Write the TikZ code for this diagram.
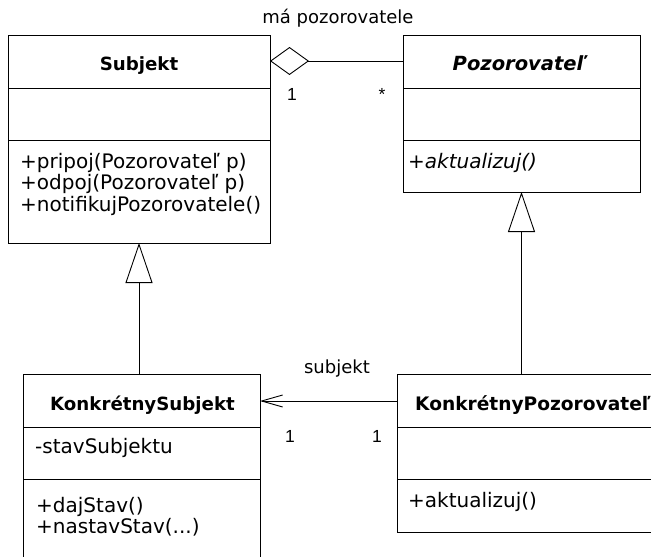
\documentclass[tikz,border=0pt]{standalone}
\usepackage{fontspec}
\setmainfont{DejaVu Sans}
\newfontfamily\numfont{Liberation Sans}
\usetikzlibrary{arrows.meta,calc}
\begin{document}
\begin{tikzpicture}[x=1pt,y=-1pt,
  cls/.style={draw=black, line width=0.9pt, inner sep=0pt, outer sep=0pt, anchor=north west},
  sep/.style={draw=black, line width=0.9pt},
  ttl/.style={anchor=base, inner sep=0pt, font=\fontsize{18.2}{21}\selectfont\bfseries},
  mem/.style={anchor=base west, inner sep=0pt, font=\fontsize{20}{23}\selectfont},
  lbl/.style={anchor=base, inner sep=0pt, font=\fontsize{18}{20}\selectfont},
  mult/.style={anchor=base, inner sep=0pt, font=\numfont\fontsize{17.5}{20}\selectfont},
  agg/.style={draw=black, line width=0.9pt, -{Diamond[open, length=39pt, width=28pt]}},
  gen/.style={draw=black, line width=0.9pt, -{Triangle[open, length=40pt, width=27pt]}},
  assoc/.style={draw=black, line width=0.9pt, -{Straight Barb[length=21pt, width=12pt]}}
]
\clip (0,0) rectangle (651,557);
\fill[white] (0,0) rectangle (651,557);

% class boxes
\node[cls, minimum width=262pt, minimum height=208pt] (subj) at (8,35) {};
\node[cls, minimum width=237pt, minimum height=157pt] (pozor) at (403,35) {};
\node[cls, minimum width=237pt, minimum height=220pt] (ksubj) at (23,374) {};
\node[cls, minimum width=260pt, minimum height=158pt] (kpoz) at (397,374) {};

% compartments
\foreach \b in {subj,pozor,ksubj,kpoz}{
  \draw[sep] ($(\b.north west)+(0,53.5)$) -- ($(\b.north east)+(0,53.5)$);
  \draw[sep] ($(\b.north west)+(0,105)$) -- ($(\b.north east)+(0,105)$);
}

% titles
\node[ttl] (subjT) at ($(subj.north)+(0,35)$) {Subjekt};
\node[ttl, font=\fontsize{19.5}{21}\selectfont\bfseries\itshape] (pozorT) at (518,70) {Pozorovateľ};
\node[ttl] (ksubjT) at (142.5,410) {KonkrétnySubjekt};
\node[ttl, anchor=base west, font=\fontsize{18.6}{21}\selectfont\bfseries] (kpozT) at (415,410) {KonkrétnyPozorovateľ};

% members
\node[mem] (s1) at (20,168) {+pripoj(Pozorovateľ p)};
\node[mem] (s2) at (20,189.5) {+odpoj(Pozorovateľ p)};
\node[mem] (s3) at (20,211) {+notifikujPozorovatele()};
\node[mem, font=\fontsize{20}{23}\selectfont\itshape] (p1) at (408,168) {+aktualizuj()};
\node[mem] (ks0) at (35,453) {-stavSubjektu};
\node[mem] (ks1) at (36,512) {+dajStav()};
\node[mem] (ks2) at (36,533) {+nastavStav(...)};
\node[mem] (kp1) at (408,507) {+aktualizuj()};

% connectors
\draw[agg] ($(pozor.north west)+(0,26)$) -- ($(subj.north east)+(0,26)$);
\draw[gen] (ksubj.north -| subj.south) -- (subj.south);
\draw[gen] (kpoz.north -| pozor.south) -- (pozor.south);
\draw[assoc] ($(kpoz.north west)+(0,27)$) -- ($(ksubj.north east)+(0,27)$);

% labels
\node[lbl] (aggL) at (338,23) {má pozorovatele};
\node[mult] (aggM1) at (292,100) {1};
\node[mult] (aggM2) at (382,100) {*};
\node[lbl] (assL) at (337,373) {subjekt};
\node[mult] (assM1) at (290,442) {1};
\node[mult] (assM2) at (377,442) {1};
\end{tikzpicture}
\end{document}
